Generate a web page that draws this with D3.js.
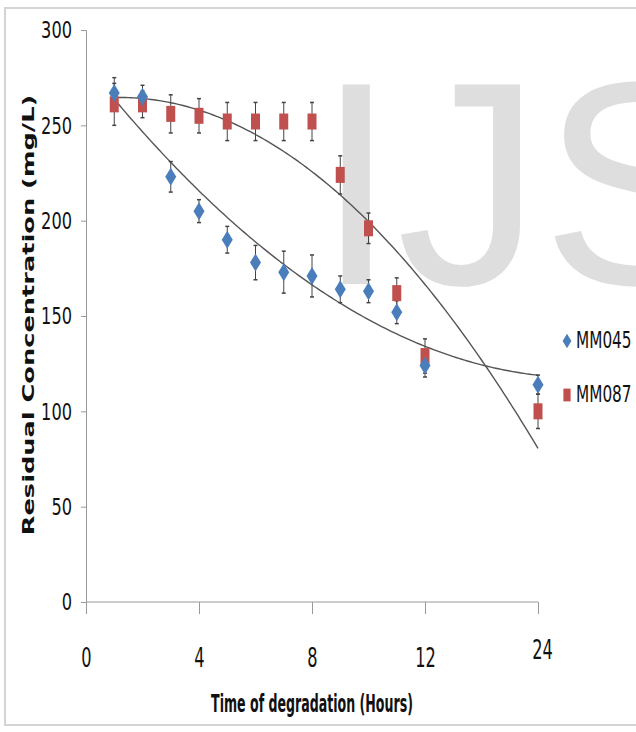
<!DOCTYPE html>
<html>
<head>
<meta charset="utf-8">
<script src="https://cdnjs.cloudflare.com/ajax/libs/d3/7.8.5/d3.min.js"></script>
<style>
* { padding: 0px; margin: 0px; }
body { background: #fff; width: 636px; height: 732px; overflow: hidden; }
.narrow { font-family: "Liberation Sans Narrow", "DejaVu Sans Condensed", "Liberation Sans", sans-serif; }
</style>
</head>
<body>
<svg width="636" height="732"></svg>
<script>
// hours of degradation, with the tick labels shown on the x axis
let hours = [1, 2, 3, 4, 5, 6, 7, 8, 9, 10, 11, 12, 24]
let tickHours = [0, 4, 8, 12, 24]
let yTicks = [0, 50, 100, 150, 200, 250, 300]

// residual concentration (mg/L) and error bar half-widths
let mm045 = [267, 265, 223, 205, 190, 178, 173, 171, 164, 163, 152, 124, 114]
let mm045Err = [8, 6, 8, 6, 7, 9, 11, 11, 7, 6, 6, 6, 5]
let mm087 = [261, 261, 256, 255, 252, 252, 252, 252, 224, 196, 162, 129, 100]
let mm087Err = [11, 7, 10, 9, 10, 10, 10, 10, 10, 8, 8, 9, 9]

let seriesNames = ["MM045", "MM087"]
let colors = ["#4a7ebb", "#c0504d"]

let svg = d3.select("svg")

// frame
svg.append("rect")
    .attr("x", 5).attr("y", 8)
    .attr("width", 660).attr("height", 717)
    .attr("fill", "none").attr("stroke", "#d4d4d4").attr("stroke-width", 2)

// watermark
svg.append("text")
    .attr("x", 316).attr("y", 284)
    .attr("font-family", "Liberation Sans, Arial, sans-serif")
    .attr("font-size", 290)
    .attr("fill", "#dedede")
    .text("IJS")

// the excel chart puts the 24h point on the 16th slot
let slot = d3.scaleLinear().domain([0, 12, 24]).range([0, 12, 16])
let x = d3.scaleLinear().domain([0, 16]).range([86, 538])
let y = d3.scaleLinear().domain([0, 300]).range([602, 30])

// y axis
let yAxis = svg.append("g").attr("transform", "translate(86,0)")
    .call(d3.axisLeft(y).tickValues(yTicks).tickSize(5).tickPadding(9))
yAxis.select(".domain").attr("stroke", "#999")
yAxis.selectAll(".tick line").attr("stroke", "#999")
yAxis.selectAll(".tick text")
    .attr("class", "narrow")
    .attr("font-size", 18)
    .attr("fill", "#111")
    .attr("y", 0).attr("dy", null)
    .attr("dominant-baseline", "central")
    .attr("transform", "scale(1,1.25)")

// x axis
let xAxis = svg.append("g").attr("transform", "translate(0,602)")
    .call(d3.axisBottom(x).tickValues(tickHours.map(slot)).tickSize(12)
        .tickFormat((d, i) => tickHours[i]))
xAxis.select(".domain").attr("stroke", "#999").attr("d", "M86,0H538")
xAxis.selectAll(".tick line").attr("stroke", "#999")
xAxis.selectAll(".tick text")
    .attr("class", "narrow")
    .attr("font-size", 18)
    .attr("fill", "#111")
    .attr("y", 0).attr("dy", null)
    .attr("dominant-baseline", "central")
    .attr("transform", (d, i) => "translate(" + (i == 4 ? 4 : 0) + "," + (i == 4 ? 48 : 56) + ") scale(1,1.5)")

// axis titles
svg.append("text")
    .attr("class", "narrow")
    .attr("transform", "translate(312,703) scale(1,1.75)")
    .attr("text-anchor", "middle")
    .attr("dominant-baseline", "central")
    .attr("font-size", 14)
    .attr("font-weight", "bold")
    .attr("fill", "#111")
    .text("Time of degradation (Hours)")

svg.append("text")
    .attr("transform", "translate(29,315) rotate(-90) scale(1.71,1)")
    .attr("text-anchor", "middle")
    .attr("dominant-baseline", "central")
    .attr("font-family", "DejaVu Sans, Verdana, sans-serif")
    .attr("font-size", 15)
    .attr("font-weight", "bold")
    .attr("fill", "#111")
    .text("Residual Concentration (mg/L)")

// polynomial (order 2) least-squares trendline, like excel's
function polyFit(xs, ys) {
    let s = [0, 0, 0, 0, 0], t = [0, 0, 0]
    xs.forEach((xv, i) => {
        for (let k = 0; k < 5; k++) s[k] += Math.pow(xv, k)
        for (let k = 0; k < 3; k++) t[k] += ys[i] * Math.pow(xv, k)
    })
    let m = [[s[0], s[1], s[2], t[0]], [s[1], s[2], s[3], t[1]], [s[2], s[3], s[4], t[2]]]
    for (let c = 0; c < 3; c++) {
        for (let r = c + 1; r < 3; r++) {
            let f = m[r][c] / m[c][c]
            for (let k = c; k < 4; k++) m[r][k] -= f * m[c][k]
        }
    }
    let coef = [0, 0, 0]
    for (let r = 2; r >= 0; r--) {
        let v = m[r][3]
        for (let k = r + 1; k < 3; k++) v -= m[r][k] * coef[k]
        coef[r] = v / m[r][r]
    }
    return coef
}

let series = [
    {name: seriesNames[0], values: mm045, err: mm045Err, color: colors[0], shape: "diamond"},
    {name: seriesNames[1], values: mm087, err: mm087Err, color: colors[1], shape: "square"}
]

let line = d3.line().x(d => x(d[0])).y(d => y(d[1]))
let slots = hours.map(slot)

series.forEach(function (s) {
    let c = polyFit(slots, s.values)
    let pts = d3.range(slots[0], slots[slots.length - 1] + 0.001, 0.1)
        .map(p => [p, c[0] + c[1] * p + c[2] * p * p])
    svg.append("path")
        .attr("d", line(pts))
        .attr("fill", "none")
        .attr("stroke", "#555")
        .attr("stroke-width", 1.4)
})

function marker(sel, shape, color) {
    if (shape == "diamond") {
        sel.append("path").attr("d", "M0,-9L5.5,0L0,9L-5.5,0Z").attr("fill", color)
    } else {
        sel.append("rect").attr("x", -4.5).attr("y", -8).attr("width", 9).attr("height", 16).attr("fill", color)
    }
}

// error bars
series.forEach(function (s) {
    let g = svg.append("g")
    s.values.forEach(function (v, i) {
        let cx = x(slots[i])
        let top = y(v + s.err[i]), bot = y(v - s.err[i])
        g.append("line").attr("x1", cx).attr("x2", cx).attr("y1", top).attr("y2", bot)
            .attr("stroke", "#444").attr("stroke-width", 1)
        ;[top, bot].forEach(function (yy) {
            g.append("line").attr("x1", cx - 2).attr("x2", cx + 2).attr("y1", yy).attr("y2", yy)
                .attr("stroke", "#444").attr("stroke-width", 1.5)
        })
    })
})

// markers
series.slice().reverse().forEach(function (s) {
    s.values.forEach(function (v, i) {
        let g = svg.append("g").attr("transform", "translate(" + x(slots[i]) + "," + y(v) + ")")
        marker(g, s.shape, s.color)
    })
})

// legend
series.forEach(function (s, i) {
    let g = svg.append("g").attr("transform", "translate(567," + (341 + i * 54) + ")")
    let m = g.append("g").attr("transform", "scale(0.8)")
    marker(m, s.shape, s.color)
    g.append("text")
        .attr("class", "narrow")
        .attr("x", 9)
        .attr("transform", "scale(1,1.3)")
        .attr("dominant-baseline", "central")
        .attr("font-size", 17)
        .attr("fill", "#111")
        .text(s.name)
})
</script>
</body>
</html>
